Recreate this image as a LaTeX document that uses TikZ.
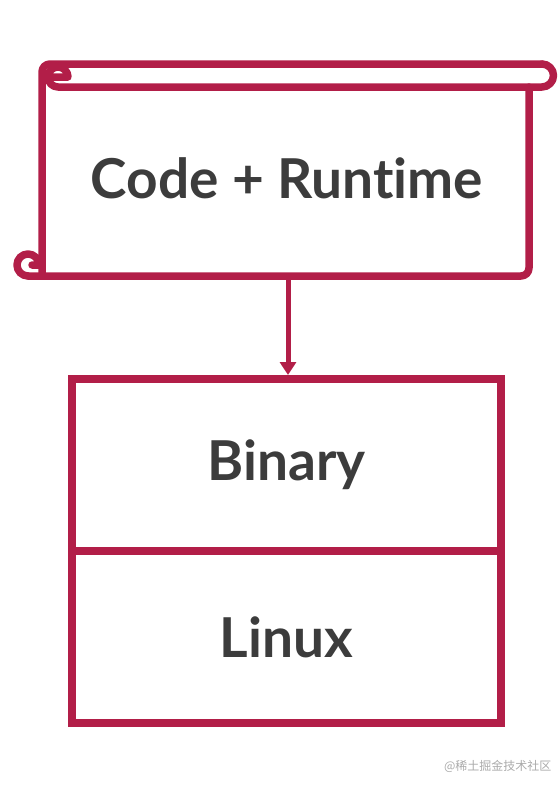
\documentclass[tikz,border=0pt]{standalone}
\usepackage{fontspec}
\setmainfont{Lato}[Ligatures={NoCommon}]
\newfontfamily\cjkfont{Noto Sans CJK SC}
\usetikzlibrary{arrows.meta}
\definecolor{scrollred}{RGB}{178,30,72}
\definecolor{textgray}{RGB}{60,60,60}
\definecolor{wmgray}{RGB}{170,170,170}
\tikzset{
  sl/.style={draw=scrollred, line width=7.5pt, line cap=round, line join=round},
  boxstyle/.style={draw=scrollred, line width=8pt, minimum width=429pt, minimum height=172pt, inner sep=0pt},
  lbl/.style={text=textgray, font=\fontsize{55}{62}\selectfont\bfseries},
  arr/.style={draw=scrollred, line width=5pt, -{Triangle[width=16pt,length=13pt]}}
}
\begin{document}
\begin{tikzpicture}[x=1pt,y=1pt]
\useasboundingbox (0,0) rectangle (558,-790);
% scroll
\draw[sl, rounded corners=8] (42,-276) -- (42,-64) -- (542,-64);
\draw[sl] (542,-64) arc[start angle=90, end angle=-90, radius=11.5] -- (58,-87)
  arc[start angle=-90, end angle=-360, radius=10] -- (53,-77);
\draw[sl, rounded corners=8] (529,-87) -- (529,-276) -- (28,-276);
\draw[sl] (28,-276) arc[start angle=-90, end angle=-360, radius=11] -- (32,-265);
\node[lbl] (code) at (287,-178) {Code + Runtime};
\coordinate (scrollbot) at (288,-276);
% boxes
\node[boxstyle, lbl] (binary) at (286.5,-465) {Binary};
\node[boxstyle, lbl] (linux) at (286.5,-637) {Linux};
% arrow
\draw[arr] (scrollbot) -- (scrollbot |- binary.north);
% watermark
\node[text=wmgray, font=\cjkfont\fontsize{12}{14}\selectfont, anchor=east] (wm) at (555,-766) {@稀土掘金技术社区};
\end{tikzpicture}
\end{document}
